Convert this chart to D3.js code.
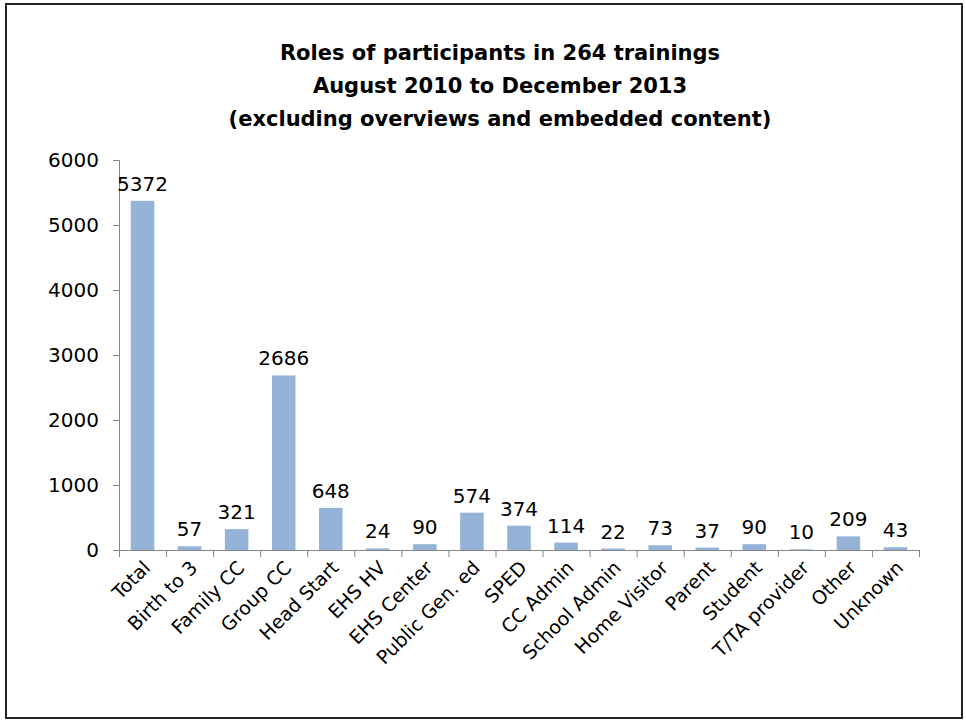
<!DOCTYPE html>
<html>
<head>
<meta charset="utf-8">
<script src="https://cdn.jsdelivr.net/npm/d3@7"></script>
<style>
	body { margin: 0; background: #fff; overflow: hidden; }
	svg { display: block; }
	text { font-family: 'DejaVu Sans', sans-serif; }
</style>
</head>
<body>
<div id="chart"></div>
<script>
// chart data
const categories = ['Total', 'Birth to 3', 'Family CC', 'Group CC', 'Head Start', 'EHS HV', 'EHS Center',
	'Public Gen. ed', 'SPED', 'CC Admin', 'School Admin', 'Home Visitor', 'Parent', 'Student',
	'T/TA provider', 'Other', 'Unknown'];
const counts = [5372, 57, 321, 2686, 648, 24, 90, 574, 374, 114, 22, 73, 37, 90, 10, 209, 43];
const yTicks = [0, 1000, 2000, 3000, 4000, 5000, 6000];
const titleLines = ['Roles of participants in 264 trainings', 'August 2010 to December 2013',
	'(excluding overviews and embedded content)'];

const config = {
	width: 966,
	height: 721,
	margin: {top: 160, right: 47, bottom: 171, left: 119}
};

const data = categories.map((c, i) => ({role: c, count: counts[i]}));

const innerWidth = config.width - config.margin.left - config.margin.right;
const innerHeight = config.height - config.margin.top - config.margin.bottom;

const svg = d3.select('#chart').append('svg')
	.attr('width', config.width)
	.attr('height', config.height);

// outer frame
svg.append('rect')
	.attr('x', 6)
	.attr('y', 4)
	.attr('width', 956)
	.attr('height', 714)
	.attr('fill', 'none')
	.attr('stroke', '#222')
	.attr('stroke-width', 2);

// title, three centred lines
svg.append('g')
	.attr('class', 'title')
	.selectAll('text')
	.data(titleLines)
	.join('text')
	.attr('x', 500)
	.attr('y', (d, i) => 60 + i * 33)
	.attr('text-anchor', 'middle')
	.style('font-weight', 'bold')
	.style('font-size', '21px')
	.text(d => d);

const chartArea = svg.append('g')
	.attr('transform', `translate(${config.margin.left},${config.margin.top})`);

const xScale = d3.scaleBand()
	.domain(categories)
	.range([0, innerWidth])
	.paddingInner(0.5)
	.paddingOuter(0.25);

const yScale = d3.scaleLinear()
	.domain([0, 6000])
	.range([innerHeight, 0]);

// y axis
const yAxis = d3.axisLeft(yScale)
	.tickValues(yTicks)
	.tickSize(6)
	.tickPadding(14)
	.tickFormat(d3.format('d'));

chartArea.append('g')
	.attr('class', 'y-axis')
	.call(yAxis)
	.call(g => g.select('.domain').attr('d', `M-6,0.5H0.5V${innerHeight + 0.5}`))
	.call(g => g.selectAll('line, .domain').attr('stroke', '#868686'))
	.call(g => g.selectAll('text').style('font-size', '20px').attr('fill', '#000').attr('font-family', null));

// x axis: ticks sit between categories
const step = xScale.step();
const boundaries = d3.range(categories.length + 1).map(i => i * step);

const xAxisG = chartArea.append('g')
	.attr('class', 'x-axis')
	.attr('transform', `translate(0,${innerHeight})`);

xAxisG.append('line')
	.attr('x1', 0)
	.attr('x2', innerWidth)
	.attr('y1', 0.5)
	.attr('y2', 0.5)
	.attr('stroke', '#868686');

xAxisG.selectAll('.tick-mark')
	.data(boundaries)
	.join('line')
	.attr('class', 'tick-mark')
	.attr('x1', d => d + 0.5)
	.attr('x2', d => d + 0.5)
	.attr('y1', 0)
	.attr('y2', 7)
	.attr('stroke', '#868686');

xAxisG.selectAll('.x-label')
	.data(categories)
	.join('text')
	.attr('class', 'x-label')
	.attr('text-anchor', 'end')
	.attr('transform', d => `translate(${xScale(d) + xScale.bandwidth() / 2 + 9},${19}) rotate(-45)`)
	.style('font-size', '19px')
	.text(d => d);

// bars
chartArea.selectAll('.bar')
	.data(data)
	.join('rect')
	.attr('class', 'bar')
	.attr('x', d => xScale(d.role))
	.attr('y', d => yScale(d.count))
	.attr('width', xScale.bandwidth())
	.attr('height', d => innerHeight - yScale(d.count))
	.attr('fill', '#95b3d7');

// value labels
chartArea.selectAll('.value-label')
	.data(data)
	.join('text')
	.attr('class', 'value-label')
	.attr('x', d => xScale(d.role) + xScale.bandwidth() / 2)
	.attr('y', d => yScale(d.count) - 10)
	.attr('text-anchor', 'middle')
	.style('font-size', '20px')
	.text(d => d.count);
</script>
</body>
</html>
